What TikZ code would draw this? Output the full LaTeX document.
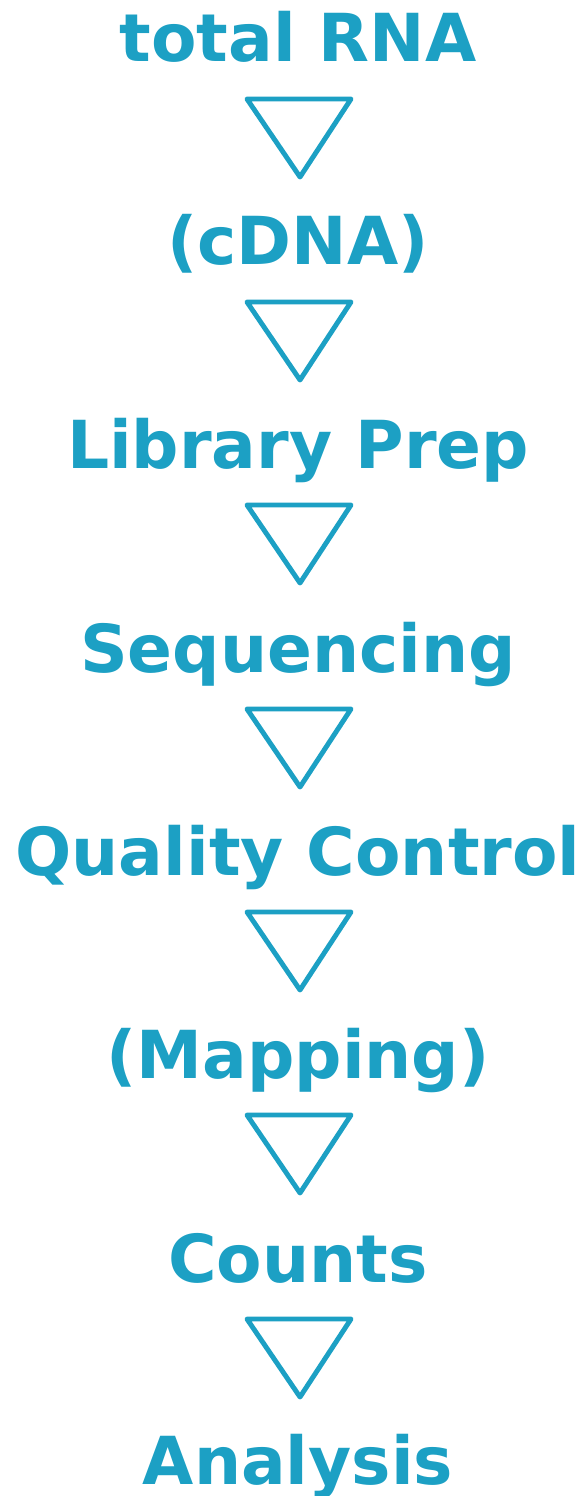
\documentclass[tikz,border=0pt]{standalone}
\usepackage{fontspec}
\setmainfont{DejaVu Sans}
\usetikzlibrary{calc,positioning}
\definecolor{rnablue}{HTML}{1CA0C4}

\begin{document}
\begin{tikzpicture}[x=0.03cm,y=-0.03cm,
    every node/.style={font=\bfseries\fontsize{56.5}{58}\selectfont,text=rnablue,anchor=base,inner sep=0pt},
    down/.style={draw=rnablue,line width=4.2pt,line join=round}]
    \useasboundingbox (0,0) rectangle (586,1496);
    \node (rna) at (298,62) {total RNA};
    \node (cdna) at (298,265) {(cDNA)};
    \node (lib) at (298,468) {Library Prep};
    \node (seq) at (298,672) {Sequencing};
    \node (qc) at (298,875) {Quality Control};
    \node (map) at (298,1078) {(Mapping)};
    \node (cnt) at (298,1282) {Counts};
    \node (ana) at (298,1484) {Analysis};
    % triangles between the steps
    \foreach \a in {rna,cdna,lib,seq,qc,map,cnt}
      \draw[down] ($(\a.base)+(-51,37)$) -- ($(\a.base)+(53,37)$) -- ($(\a.base)+(2,115)$) -- cycle;
\end{tikzpicture}
\end{document}
